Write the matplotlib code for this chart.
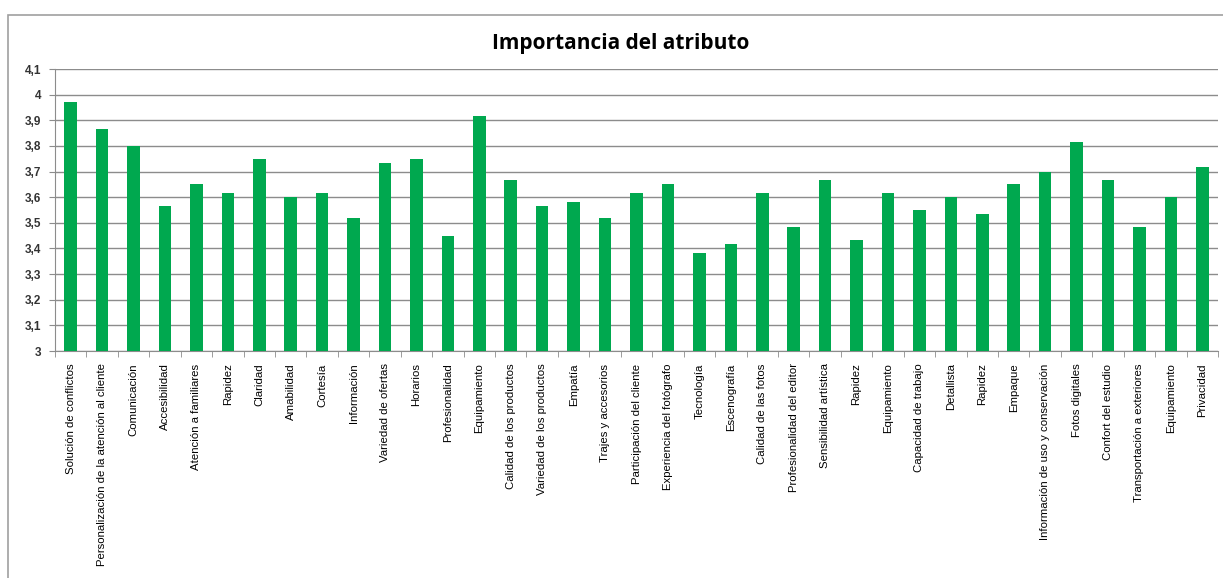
import matplotlib.pyplot as plt
from matplotlib.patches import Rectangle
from matplotlib.ticker import FixedLocator, FuncFormatter

# Atributos evaluados y su importancia media
atributos = [
    "Solución de conflictos", "Personalización de la atención al cliente", "Comunicación",
    "Accesibilidad", "Atención a familiares", "Rapidez", "Claridad", "Amabilidad",
    "Cortesía", "Información", "Variedad de ofertas", "Horarios", "Profesionalidad",
    "Equipamiento", "Calidad de los productos", "Variedad de los productos", "Empatía",
    "Trajes y accesorios", "Participación del cliente", "Experiencia del fotógrafo",
    "Tecnología", "Escenografía", "Calidad de las fotos", "Profesionalidad del editor",
    "Sensibilidad artística", "Rapidez", "Equipamiento", "Capacidad de trabajo",
    "Detallista", "Rapidez", "Empaque", "Información de uso y conservación",
    "Fotos digitales", "Confort del estudio", "Transportación a exteriores",
    "Equipamiento", "Privacidad",
]
importancia = [
    3.97, 3.867, 3.80, 3.567, 3.65, 3.617, 3.75, 3.60, 3.617, 3.517, 3.733, 3.75, 3.45,
    3.917, 3.667, 3.567, 3.583, 3.517, 3.617, 3.65, 3.383, 3.417, 3.617, 3.483, 3.667,
    3.433, 3.617, 3.55, 3.60, 3.533, 3.65, 3.70, 3.817, 3.667, 3.483, 3.60, 3.717,
]
y_ticks = [3.0, 3.1, 3.2, 3.3, 3.4, 3.5, 3.6, 3.7, 3.8, 3.9, 4.0, 4.1]

plt.rcParams['font.family'] = ['Liberation Sans', 'DejaVu Sans']

W, H = 1223, 578
fig = plt.figure(figsize=(W / 100, H / 100), dpi=100)

# marco exterior del grafico (sigue mas alla del borde derecho e inferior)
fig.patches.append(Rectangle((8 / W, -0.05), 1.05, 1.05 - 15 / H,
                             transform=fig.transFigure, fill=False,
                             edgecolor='#a0a0a0', linewidth=1.2))

ax = fig.add_axes([55 / W, 1 - 351 / H, (1218 - 55) / W, (351 - 69) / H])

x = range(len(atributos))
ax.bar(x, importancia, width=0.4, color='#00a84f', zorder=3)

ax.set_xlim(-0.5, len(atributos) - 0.5)
ax.set_ylim(3.0, 4.1)
ax.yaxis.set_major_locator(FixedLocator(y_ticks))
ax.yaxis.set_major_formatter(FuncFormatter(lambda v, p: f"{v:g}".replace('.', ',')))
ax.grid(axis='y', color='#8c8c8c', linewidth=1.0, zorder=0)

ax.set_xticks(list(x))
ax.set_xticklabels(atributos, rotation=90, fontsize=8.2)
ax.set_xticks([i - 0.5 for i in range(len(atributos) + 1)], minor=True)
ax.tick_params(axis='x', which='major', length=0, pad=9)
ax.tick_params(axis='x', which='minor', length=4, color='#8c8c8c', direction='out')
ax.tick_params(axis='y', length=4, color='#8c8c8c', labelsize=8.5, pad=6)
for lbl in ax.get_yticklabels():
    lbl.set_fontweight('bold')
    lbl.set_color('#333333')

for side in ['top', 'right']:
    ax.spines[side].set_visible(False)
for side in ['left', 'bottom']:
    ax.spines[side].set_color('#8c8c8c')

fig.text(621 / W, 1 - 43 / H, "Importancia del atributo", ha='center', va='center',
         fontsize=15, fontweight='bold', family=['Open Sans', 'DejaVu Sans'])

fig.savefig('out.png', dpi=100)
